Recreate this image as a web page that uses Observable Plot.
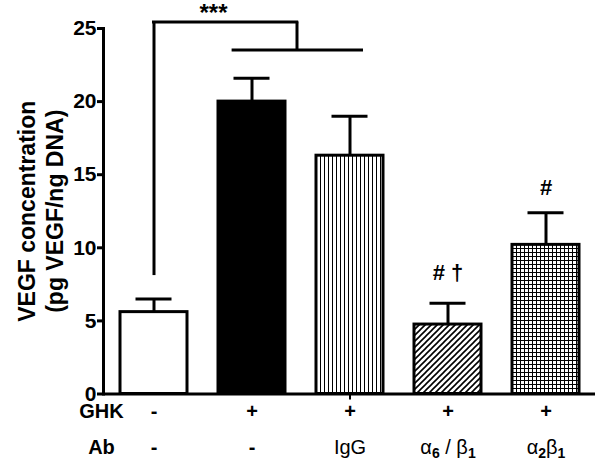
<!DOCTYPE html>
<html><head><meta charset="utf-8">
<script src="https://cdn.jsdelivr.net/npm/d3@7"></script>
<script src="https://cdn.jsdelivr.net/npm/@observablehq/plot@0.6"></script>
<style>html,body{margin:0;padding:0;background:#fff} #chart svg{display:block}</style>
</head><body><div id="chart"></div>
<script>
const categories = ["Control", "GHK", "GHK + IgG", "GHK + α6/β1", "GHK + α2β1"];
const means = [5.6, 20.0, 16.3, 4.75, 10.2];
const sems = [0.9, 1.6, 2.7, 1.45, 2.2];
const ghkRow = ["-", "+", "+", "+", "+"];
const abRow = ["-", "-", "IgG", "α_6 / β_1", "α_2β_1"];
const yTicks = [0, 5, 10, 15, 20, 25];
const rowTitles = ["GHK", "Ab"];
const yLabel = "VEGF concentration\n(pg VEGF/ng DNA)";

const fills = ["white", "black", "url(#vlines)", "url(#diag)", "url(#grid)"];
const data = categories.map((c, i) => ({cat: c, mean: means[i], sem: sems[i], ghk: ghkRow[i], ab: abRow[i]}));
const C = i => () => categories[i];

const svg = Plot.plot({
  width: 602, height: 475,
  marginLeft: 103, marginRight: 7, marginTop: 28, marginBottom: 81.5,
  style: {fontFamily: "'Liberation Sans', Arial, sans-serif", fontSize: "20px", fontWeight: "bold", background: "white", color: "black", overflow: "visible"},
  x: {domain: categories, paddingInner: 0.32, paddingOuter: 0.16, axis: null},
  y: {domain: [0, 25], axis: null},
  color: {domain: categories, range: fills},
  marks: [
    Plot.barY(data, {x: "cat", y: "mean", fill: "cat", stroke: "black", strokeWidth: 3}),
    Plot.ruleX(data, {x: "cat", y1: "mean", y2: d => d.mean + d.sem, strokeWidth: 3}),
    Plot.tickY(data, {x: "cat", y: d => d.mean + d.sem, strokeWidth: 3, insetLeft: 15.5, insetRight: 15.5}),
    Plot.ruleY([0], {strokeWidth: 3}),
    Plot.frame({anchor: "left", strokeWidth: 3}),
    Plot.axisY({ticks: yTicks, tickSize: 6, tickPadding: 1, strokeWidth: 3, label: null, fontSize: 21, fontWeight: "bold"}),
    Plot.axisX({ticks: [categories[2]], tickSize: 6, tickFormat: () => "", strokeWidth: 2, label: null}),
    // significance brackets
    Plot.ruleX([0], {x: C(0), y1: 8.1, y2: 25.45, strokeWidth: 3}),
    Plot.ruleY([25.45], {x1: C(0), x2: C(1), insetLeft: 33.5, insetRight: -11.7, strokeWidth: 3, strokeLinecap: "square"}),
    Plot.ruleX([0], {x: C(2), y1: 23.53, y2: 25.45, dx: -53, strokeWidth: 3}),
    Plot.ruleY([23.53], {x1: C(1), x2: C(2), insetLeft: 13.6, insetRight: 20, strokeWidth: 3}),
    Plot.text(["***"], {x: C(1), y: 26.68, dx: -38.5, text: d => d, fontSize: 24, lineAnchor: "top"}),
    Plot.text(["# †"], {x: C(3), y: 8.25, text: d => d, fontSize: 22}),
    Plot.text(["#"], {x: C(4), y: 14.1, text: d => d, fontSize: 22}),
    // row labels
    Plot.text(data, {x: "cat", text: "ghk", frameAnchor: "bottom", dy: 24}),
    Plot.text(data, {x: "cat", text: "ab", frameAnchor: "bottom", dy: 59.5}),
    Plot.text([rowTitles[0]], {text: d => d, frameAnchor: "bottom-left", dx: -2, dy: 24, textAnchor: "middle"}),
    Plot.text([rowTitles[1]], {text: d => d, frameAnchor: "bottom-left", dx: -2, dy: 59.5, textAnchor: "middle"}),
    Plot.text([yLabel], {text: d => d, frameAnchor: "left", textAnchor: "middle", rotate: -90, dx: -63.5, lineHeight: 1.2, fontSize: 23})
  ]
});

const defs = d3.select(svg).insert("defs", ":first-child");
const p1 = defs.append("pattern").attr("id", "vlines").attr("patternUnits", "userSpaceOnUse").attr("width", 4).attr("height", 4);
p1.append("rect").attr("width", 4).attr("height", 4).attr("fill", "white");
p1.append("path").attr("d", "M0.5,0V4").attr("stroke", "black").attr("stroke-width", 1);
const p2 = defs.append("pattern").attr("id", "diag").attr("patternUnits", "userSpaceOnUse").attr("width", 6).attr("height", 6);
p2.append("rect").attr("width", 6).attr("height", 6).attr("fill", "white");
p2.append("path").attr("d", "M-1,7L7,-1M-1,1L1,-1M5,7L7,5").attr("stroke", "black").attr("stroke-width", 1.6);
const p3 = defs.append("pattern").attr("id", "grid").attr("patternUnits", "userSpaceOnUse").attr("width", 4).attr("height", 4);
p3.append("rect").attr("width", 4).attr("height", 4).attr("fill", "white");
p3.append("path").attr("d", "M0.5,0V4M0,0.5H4").attr("stroke", "black").attr("stroke-width", 1);

// subscripts and regular weight for antibody names
d3.select(svg).selectAll("text").each(function() {
  const t = this.textContent;
  if (/[A-Za-zα-ω]/.test(t) && abRow.includes(t)) {
    this.setAttribute("font-weight", "normal");
    if (t.includes("_")) {
      while (this.firstChild) this.removeChild(this.firstChild);
      const parts = t.split(/_(\d)/);
      parts.forEach((s, k) => {
        if (!s) return;
        const ts = document.createElementNS("http://www.w3.org/2000/svg", "tspan");
        ts.textContent = s;
        if (k % 2 === 1) {
          ts.setAttribute("font-size", "14");
          ts.setAttribute("font-weight", "bold");
          ts.setAttribute("dy", "4");
        } else if (k > 0) {
          ts.setAttribute("dy", "-4");
        }
        this.appendChild(ts);
      });
    }
  }
});

document.getElementById("chart").appendChild(svg);
</script>
</body></html>
